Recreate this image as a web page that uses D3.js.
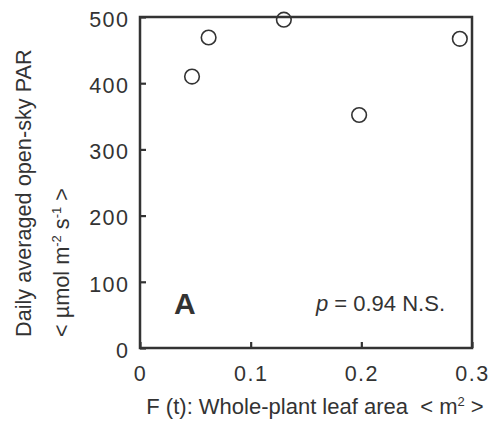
<!DOCTYPE html>
<html>
<head>
<meta charset="utf-8">
<script src="https://cdn.jsdelivr.net/npm/d3@7"></script>
<style>
  body { margin: 0; background: #fff; }
  svg { display: block; font-family: "Liberation Sans", Arial, sans-serif; }
  text { white-space: pre; }
</style>
</head>
<body>
<div id="chart"></div>
<script>
// leaf area (m2) vs daily averaged open-sky PAR
const leafArea = [0.047, 0.062, 0.130, 0.198, 0.289];
const par = [410, 469, 496, 352, 467];
const xTicks = [0, 0.1, 0.2, 0.3];
const yTicks = [0, 100, 200, 300, 400, 500];

const ink = "#333";

function chart () {
  const width = 495;
  const height = 423;
  const margin = {top: 17, right: 23, bottom: 75, left: 140};

  const svg = d3.select("#chart").append("svg")
      .attr("width", width)
      .attr("height", height);

  const x = d3.scaleLinear()
      .domain([0, 0.3])
      .range([margin.left, width - margin.right]);

  const y = d3.scaleLinear()
      .domain([0, 500])
      .range([height - margin.bottom, margin.top]);

  // y axis: inward ticks, labels outside
  const yAxis = svg.append("g")
      .attr("transform", `translate(${margin.left},0)`)
      .call(d3.axisLeft(y).tickValues(yTicks).tickSize(-6).tickPadding(10.5));
  yAxis.select(".domain").remove();
  yAxis.selectAll("line").attr("stroke", ink).attr("stroke-width", 2.2);
  yAxis.selectAll("text")
      .attr("fill", ink)
      .attr("font-size", 21.5)
      .attr("letter-spacing", 1.5)
      .attr("dy", "0.43em");

  const xAxis = svg.append("g")
      .attr("transform", `translate(0,${height - margin.bottom})`)
      .call(d3.axisBottom(x).tickValues(xTicks).tickSize(-6).tickPadding(18)
        .tickFormat(d => d === 0 ? "0" : d3.format(".1f")(d)));
  xAxis.select(".domain").remove();
  xAxis.selectAll("line").attr("stroke", ink).attr("stroke-width", 2.2);
  xAxis.selectAll("text")
      .attr("fill", ink)
      .attr("font-size", 21.5)
      .attr("letter-spacing", 1.5)
      .attr("dy", "0.71em");

  // frame
  svg.append("rect")
      .attr("x", x(0))
      .attr("y", y(500))
      .attr("width", x(0.3) - x(0))
      .attr("height", y(0) - y(500))
      .attr("fill", "none")
      .attr("stroke", ink)
      .attr("stroke-width", 2.5);

  // points
  svg.append("g")
    .selectAll("circle")
    .data(leafArea)
    .join("circle")
      .attr("cx", d => x(d))
      .attr("cy", (d, i) => y(par[i]))
      .attr("r", 7.3)
      .attr("fill", "none")
      .attr("stroke", ink)
      .attr("stroke-width", 1.6);

  // panel letter and stats
  svg.append("text")
      .attr("x", 174)
      .attr("y", 314)
      .attr("font-size", 30)
      .attr("font-weight", "bold")
      .attr("fill", ink)
      .text("A");

  const stat = svg.append("text")
      .attr("x", 445)
      .attr("y", 311)
      .attr("font-size", 22)
      .attr("text-anchor", "end")
      .attr("fill", ink);
  stat.append("tspan").attr("font-style", "italic").text("p");
  stat.append("tspan").text(" = 0.94 N.S.");

  // x label
  const xl = svg.append("text")
      .attr("x", 315)
      .attr("y", 414)
      .attr("font-size", 22)
      .attr("text-anchor", "middle")
      .attr("fill", ink);
  xl.append("tspan").text("F (t): Whole-plant leaf area  < m");
  xl.append("tspan").attr("font-size", 13).attr("dy", -8).text("2");
  xl.append("tspan").attr("dy", 8).text(" >");

  // y label, two lines
  svg.append("text")
      .attr("transform", "translate(31,337) rotate(-90)")
      .attr("font-size", 21.7)
      .attr("fill", ink)
      .text("Daily averaged open-sky PAR");

  const yl = svg.append("text")
      .attr("transform", "translate(69,337) rotate(-90)")
      .attr("font-size", 21.7)
      .attr("fill", ink);
  yl.append("tspan").text("< \u00b5mol m");
  yl.append("tspan").attr("font-size", 13).attr("dy", -8).text("-2");
  yl.append("tspan").attr("dy", 8).text(" s");
  yl.append("tspan").attr("font-size", 13).attr("dy", -8).text("-1");
  yl.append("tspan").attr("dy", 8).text(" >");

  return svg.node();
}

chart();
</script>
</body>
</html>
